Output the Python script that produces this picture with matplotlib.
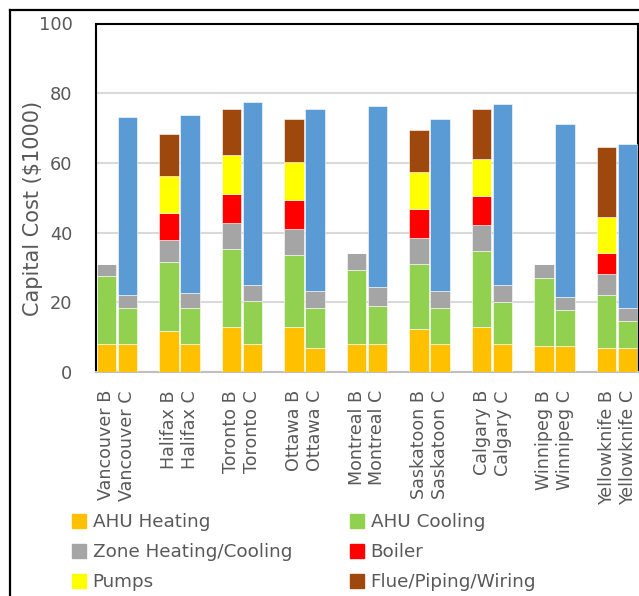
import numpy as np
import matplotlib.pyplot as plt
from matplotlib.lines import Line2D

cities = ['Vancouver', 'Halifax', 'Toronto', 'Ottawa', 'Montreal',
          'Saskatoon', 'Calgary', 'Winnipeg', 'Yellowknife']

# System B (boiler based)
b_ahu_heat = [8.0, 11.7, 12.9, 12.9, 8.0, 12.3, 12.9, 7.4, 6.9]
b_ahu_cool = [19.5, 20.0, 22.4, 20.7, 21.3, 18.8, 21.9, 19.5, 15.1]
b_zone = [3.6, 6.1, 7.4, 7.3, 4.9, 7.4, 7.3, 4.2, 6.1]
b_boiler = [0, 7.9, 8.4, 8.5, 0, 8.4, 8.5, 0, 6.1]
b_pumps = [0, 10.4, 11.1, 11.0, 0, 10.4, 10.4, 0, 10.4]
b_flue = [0, 12.2, 13.4, 12.2, 0, 12.2, 14.6, 0, 20.1]

# System C
c_ahu_heat = [8.0, 8.0, 8.0, 6.9, 8.0, 8.0, 8.0, 7.4, 6.9]
c_ahu_cool = [10.4, 10.4, 12.3, 11.5, 11.0, 10.4, 12.2, 10.3, 7.8]
c_zone = [3.6, 4.3, 4.8, 4.8, 5.5, 4.8, 4.8, 3.7, 3.7]
c_other = [51.2, 51.1, 52.3, 52.4, 51.8, 49.4, 51.9, 49.9, 46.9]

colors = {'heat': '#FFC000', 'cool': '#92D050', 'zone': '#A5A5A5',
          'boiler': '#FF0000', 'pumps': '#FFFF00', 'flue': '#9E480E',
          'other': '#5B9BD5'}
txt = '#595959'

fig = plt.figure(figsize=(6.39, 5.96), dpi=100)
ax = fig.add_axes([96 / 639, 1 - 372 / 596, 542 / 639, 348.5 / 596])

n = len(cities)
xb = np.arange(n) * 3
xc = xb + 1
w = 0.93
kw = dict(width=w, edgecolor='white', linewidth=0.4, zorder=3)

bottom = np.zeros(n)
for vals, key in [(b_ahu_heat, 'heat'), (b_ahu_cool, 'cool'), (b_zone, 'zone'),
                  (b_boiler, 'boiler'), (b_pumps, 'pumps'), (b_flue, 'flue')]:
    v = np.array(vals)
    ax.bar(xb, v, bottom=bottom, color=colors[key], **kw)
    bottom += v

bottom = np.zeros(n)
for vals, key in [(c_ahu_heat, 'heat'), (c_ahu_cool, 'cool'), (c_zone, 'zone'),
                  (c_other, 'other')]:
    v = np.array(vals)
    ax.bar(xc, v, bottom=bottom, color=colors[key], **kw)
    bottom += v

ax.set_xlim(-0.5, 3 * n - 1.5)
ax.set_ylim(0, 100)
ax.set_yticks(np.arange(0, 101, 20))
ax.grid(axis='y', color='#D9D9D9', linewidth=1.5, zorder=0)

ticks = np.sort(np.concatenate([xb, xc]))
labels = []
for c in cities:
    labels += [c + ' B', c + ' C']
ax.set_xticks(ticks)
ax.set_xticklabels(labels, rotation=90, fontsize=12.6, color=txt)
ax.tick_params(axis='x', length=0, pad=13)
ax.tick_params(axis='y', length=0, pad=17, labelsize=12.8, labelcolor=txt)

for s in ['left', 'top', 'right']:
    ax.spines[s].set_color('black')
    ax.spines[s].set_linewidth(1.5)
ax.spines['bottom'].set_color('#BFBFBF')
ax.spines['bottom'].set_linewidth(1.5)

ax.set_ylabel('Capital Cost ($1000)', fontsize=15, color=txt, va='center')
ax.yaxis.set_label_coords(-0.117, 0.47)

# outer chart frame (cropped on the right and bottom)
fig.add_artist(Line2D([9.5 / 639, 9.5 / 639], [0, 1 - 9.5 / 596], color='black', lw=1.6))
fig.add_artist(Line2D([9.5 / 639, 1], [1 - 9.5 / 596, 1 - 9.5 / 596], color='black', lw=1.6))

def patch(key):
    return plt.Rectangle((0, 0), 1, 1, color=colors[key])

lkw = dict(frameon=False, fontsize=13.2, labelcolor=txt, handlelength=0.78,
           handleheight=0.78, handletextpad=0.35, labelspacing=0.66,
           borderpad=0, borderaxespad=0, loc='upper left')
fig.legend([patch('heat'), patch('zone'), patch('pumps')],
           ['AHU Heating', 'Zone Heating/Cooling', 'Pumps'],
           bbox_to_anchor=(72 / 639, 1 - 513 / 596), **lkw)
fig.legend([patch('cool'), patch('boiler'), patch('flue')],
           ['AHU Cooling', 'Boiler', 'Flue/Piping/Wiring'],
           bbox_to_anchor=(350 / 639, 1 - 513 / 596), **lkw)

fig.savefig('out.png', dpi=100)
